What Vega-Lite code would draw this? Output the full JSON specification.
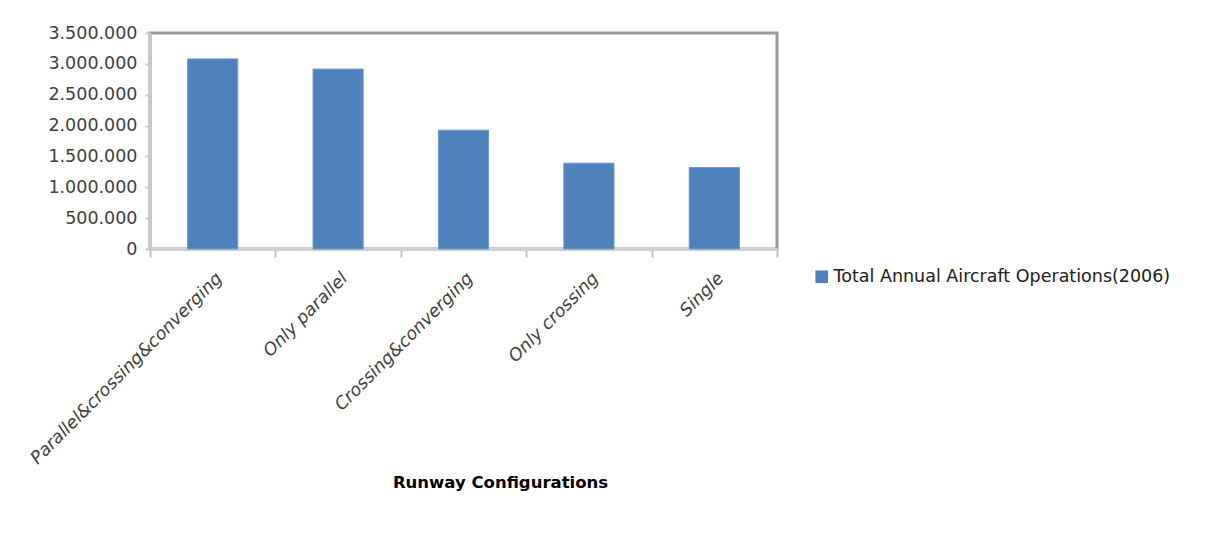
{
  "$schema": "https://vega.github.io/schema/vega-lite/v6.json",
  "autosize": {"type": "none"},
  "width": 627,
  "height": 216,
  "padding": {"left": 150, "top": 33, "right": 434, "bottom": 296},
  "background": "white",
  "config": {
    "locale": {"number": {"decimal": ",", "thousands": ".", "grouping": [3], "currency": ["", ""]}},
    "view": {"stroke": "#9a9a9a", "strokeWidth": 3},
    "font": "DejaVu Sans"
  },
  "data": {
    "values": [
      {"config": "Parallel&crossing&converging", "ops": 3080000, "series": "Total Annual Aircraft Operations(2006)"},
      {"config": "Only parallel", "ops": 2915000, "series": "Total Annual Aircraft Operations(2006)"},
      {"config": "Crossing&converging", "ops": 1925000, "series": "Total Annual Aircraft Operations(2006)"},
      {"config": "Only crossing", "ops": 1390000, "series": "Total Annual Aircraft Operations(2006)"},
      {"config": "Single", "ops": 1320000, "series": "Total Annual Aircraft Operations(2006)"}
    ]
  },
  "mark": {"type": "bar", "stroke": "#6f97c9", "strokeWidth": 1, "width": {"band": 0.4}},
  "encoding": {
    "x": {
      "field": "config",
      "type": "nominal",
      "sort": null,
      "scale": {"paddingInner": 0, "paddingOuter": 0},
      "axis": {
        "title": "Runway Configurations",
        "titleFont": "DejaVu Sans",
        "titleFontWeight": "bold",
        "titleFontSize": 16.5,
        "titleColor": "#000000",
        "titleX": 350,
        "titleY": 233,
        "titleAlign": "center",
        "titleBaseline": "middle",
        "labelAngle": -45,
        "labelFont": "DejaVu Sans",
        "labelFontStyle": "italic",
        "labelFontSize": 17.5,
        "labelColor": "#404040",
        "labelPadding": 12,
        "labelOverlap": false,
        "labelLimit": 400,
        "domainColor": "#d0d0d0",
        "domainWidth": 3,
        "tickBand": "extent",
        "tickColor": "#c0c0c0",
        "tickWidth": 2,
        "tickSize": 8
      }
    },
    "y": {
      "field": "ops",
      "type": "quantitative",
      "scale": {"domain": [0, 3500000]},
      "axis": {
        "title": null,
        "values": [0, 500000, 1000000, 1500000, 2000000, 2500000, 3000000, 3500000],
        "format": ",d",
        "grid": false,
        "labelFont": "DejaVu Sans",
        "labelFontSize": 17.5,
        "labelColor": "#404040",
        "labelPadding": 8,
        "domainColor": "#c8c8c8",
        "domainWidth": 3,
        "tickColor": "#c8c8c8",
        "tickWidth": 2,
        "tickSize": 5
      }
    },
    "color": {
      "field": "series",
      "type": "nominal",
      "scale": {"range": ["#4f81bd"]},
      "legend": {
        "title": null,
        "orient": "none",
        "legendX": 663,
        "legendY": 235,
        "symbolType": "square",
        "symbolSize": 160,
        "symbolStrokeWidth": 0,
        "labelFont": "DejaVu Sans",
        "labelFontSize": 17.5,
        "labelColor": "#202020",
        "labelLimit": 500,
        "labelOffset": 3
      }
    }
  }
}
